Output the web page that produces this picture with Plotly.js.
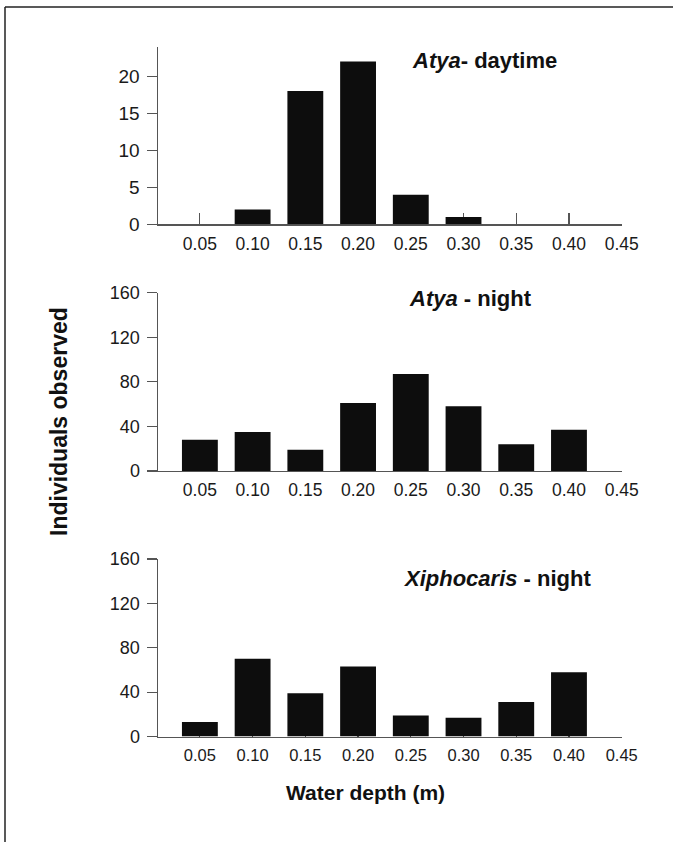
<!DOCTYPE html>
<html>
<head>
<meta charset="utf-8">
<script src="https://cdn.plot.ly/plotly-3.0.1.min.js"></script>
<style>html,body{margin:0;padding:0;background:#fff;}#chart{width:673px;height:842px;}</style>
</head>
<body>
<div id="chart"></div>
<script>
// Data
const depths = [0.05, 0.10, 0.15, 0.20, 0.25, 0.30, 0.35, 0.40];
const atyaDay = [0, 2, 18, 22, 4, 1, 0, 0];
const atyaNight = [28, 35, 19, 61, 87, 58, 24, 37];
const xiphoNight = [13, 70, 39, 63, 19, 17, 31, 58];
const xTickVals = [0.05, 0.10, 0.15, 0.20, 0.25, 0.30, 0.35, 0.40, 0.45];
const xTickText = ['0.05', '0.10', '0.15', '0.20', '0.25', '0.30', '0.35', '0.40', '0.45'];
const yTicksDay = [0, 5, 10, 15, 20];
const yTicksNight = [0, 40, 80, 120, 160];
const panelTitles = ['<b><i>Atya</i>- daytime</b>', '<b><i>Atya</i> - night</b>', '<b><i>Xiphocaris</i> - night</b>'];
const xTitle = '<b>Water depth (m)</b>';
const yTitle = '<b>Individuals observed</b>';

const W = 673, H = 842;
const FONT = 'Liberation Sans, Arial, Helvetica, sans-serif';
const AX = '#555555';
const BAR = '#0d0d0d';

function px(x) { return x / W; }
function py(y) { return (H - y) / H; }

const xDomain = [px(157.7), px(621.7)];

function bar(y, xa, ya) {
  return {
    type: 'bar', x: depths, y: y, xaxis: xa, yaxis: ya,
    width: depths.map(() => 0.034),
    marker: {color: BAR, line: {width: 0}},
    hoverinfo: 'x+y', showlegend: false
  };
}

function xAxis(anchor, fs) {
  return {
    domain: xDomain, range: [0.01, 0.45], anchor: anchor,
    tickmode: 'array', tickvals: xTickVals, ticktext: xTickText,
    ticks: 'inside', ticklen: 11, tickwidth: 1.2, tickcolor: AX,
    showline: true, linecolor: AX, linewidth: 1.2,
    showgrid: false, zeroline: false, layer: 'below traces',
    tickfont: {family: FONT, size: fs, color: '#1a1a1a'},
    ticklabelstandoff: 3, fixedrange: true
  };
}
function yAxis(anchor, dom, rng, ticks, fs) {
  return {
    domain: dom, range: rng, anchor: anchor,
    tickmode: 'array', tickvals: ticks,
    ticks: 'outside', ticklen: 10, tickwidth: 1.2, tickcolor: AX,
    showline: true, linecolor: AX, linewidth: 1.2,
    showgrid: false, zeroline: false, layer: 'below traces',
    tickfont: {family: FONT, size: fs, color: '#1a1a1a'},
    ticklabelstandoff: 3, fixedrange: true
  };
}

const data = [
  bar(atyaDay, 'x', 'y'),
  bar(atyaNight, 'x2', 'y2'),
  bar(xiphoNight, 'x3', 'y3')
];

const titleFont = {family: FONT, size: 22, color: '#111'};

const layout = {
  width: W, height: H,
  margin: {l: 0, r: 0, t: 0, b: 0},
  paper_bgcolor: '#fff', plot_bgcolor: 'rgba(0,0,0,0)',
  xaxis: xAxis('y', 17.5),
  yaxis: yAxis('x', [py(224.3), py(46.7)], [0, 24], yTicksDay, 19),
  xaxis2: xAxis('y2', 17.5),
  yaxis2: yAxis('x2', [py(471), py(292.7)], [0, 160], yTicksNight, 18),
  xaxis3: xAxis('y3', 16.5),
  yaxis3: yAxis('x3', [py(736.5), py(559)], [0, 160], yTicksNight, 18),
  annotations: [
    {text: panelTitles[0], xref: 'paper', yref: 'paper', x: px(484), y: py(60), xanchor: 'center', yanchor: 'middle', showarrow: false, font: titleFont},
    {text: panelTitles[1], xref: 'paper', yref: 'paper', x: px(471), y: py(299), xanchor: 'center', yanchor: 'middle', showarrow: false, font: titleFont},
    {text: panelTitles[2], xref: 'paper', yref: 'paper', x: px(497), y: py(578), xanchor: 'center', yanchor: 'middle', showarrow: false, font: titleFont},
    {text: xTitle, xref: 'paper', yref: 'paper', x: px(366), y: py(792), xanchor: 'center', yanchor: 'middle', showarrow: false, font: {family: FONT, size: 21, color: '#111'}},
    {text: yTitle, xref: 'paper', yref: 'paper', x: px(59), y: py(421), xanchor: 'center', yanchor: 'middle', textangle: -90, showarrow: false, font: {family: FONT, size: 23, color: '#111'}}
  ],
  shapes: [
    {type: 'line', xref: 'paper', yref: 'paper', x0: px(5), x1: 1, y0: py(7), y1: py(7), line: {color: '#222', width: 1.5}},
    {type: 'line', xref: 'paper', yref: 'paper', x0: px(5), x1: px(5), y0: py(7), y1: 0, line: {color: '#222', width: 1.5}}
  ]
};

Plotly.newPlot('chart', data, layout, {displayModeBar: false, staticPlot: true});
</script>
</body>
</html>
